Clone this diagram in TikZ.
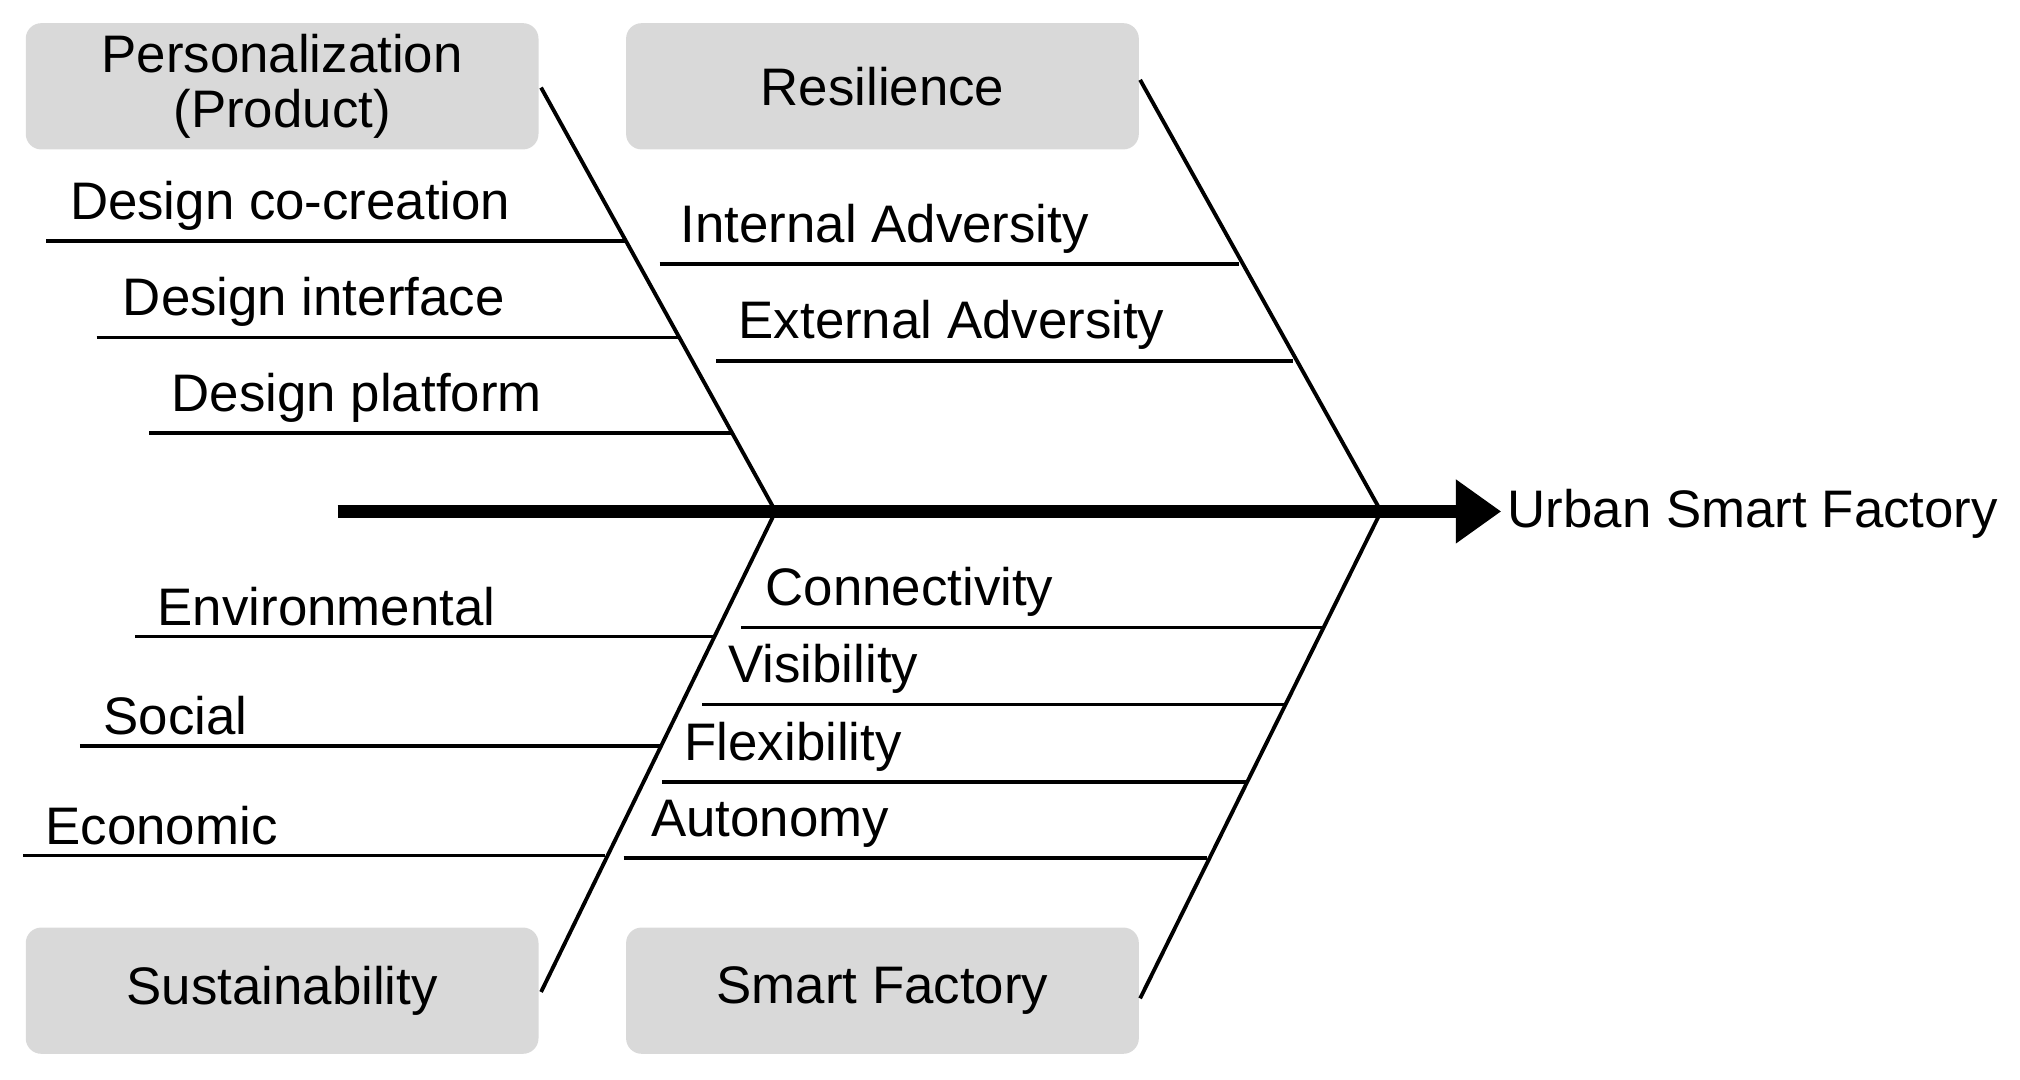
\documentclass[tikz,border=0pt]{standalone}
\usepackage{fontspec}
\setmainfont{Liberation Sans}
\begin{document}
\begin{tikzpicture}[x=0.5pt,y=-0.5pt,
  cat/.style={fill=black!15,rounded corners=6pt,minimum width=199pt,minimum height=49pt,inner sep=0pt,align=center,font=\fontsize{20.5}{21}\selectfont},
  lbl/.style={anchor=south west,inner sep=0pt,font=\fontsize{20.5}{22}\selectfont},
  bone/.style={line width=1.5pt},
  sub/.style={line width=1.4pt}]
\useasboundingbox (0,0) rectangle (1568,838);
\node[cat] (p) at (219,67) {Personalization\\(Product)};
\node[cat] (r) at (685,67) {Resilience};
\node[cat] (s) at (219,769) {Sustainability};
\node[cat] (f) at (685,769) {Smart Factory};
\coordinate (t) at (262,397);
\coordinate (j1) at (602,397);
\coordinate (j2) at (1072,397);
\coordinate (h) at (1165,397);
\draw[line width=5pt] (t) -- (1135,397);
\fill (1130,372) -- (h) -- (1130,422) -- cycle;
\node[anchor=west,inner sep=0pt,font=\fontsize{20.5}{22}\selectfont] (u) at (1170,399) {Urban Smart Factory};
\coordinate (p1) at (420,68); \coordinate (r1) at (885,62);
\coordinate (s1) at (420,770); \coordinate (f1) at (885,775);
\draw[bone] (p1) -- (j1); \draw[bone] (r1) -- (j2);
\draw[bone] (s1) -- (j1); \draw[bone] (f1) -- (j2);
\foreach \n/\xa/\xb/\y/\tx/\txt in {
 a/36/486/187/54/Design co-creation,
 b/75/527/262/95/Design interface,
 c/116/568/336/133/Design platform,
 d/512/962/205/528/Internal Adversity,
 e/556/1004/280/573/External Adversity,
 g/105/555/494/122/Environmental,
 k/62/514/579/80/Social,
 l/18/470/664/35/Economic,
 m/575/1027/487/594/Connectivity,
 n/545/997/547/565/Visibility,
 o/514/967/607/531/Flexibility,
 q/484/937/666/505/Autonomy}{
 \coordinate (\n s) at (\xa,\y); \coordinate (\n e) at (\xb,\y);
 \draw[sub] (\n s) -- (\n e);
 \node[lbl] (\n t) at (\tx,\y-8) {\txt};
}
\end{tikzpicture}
\end{document}
